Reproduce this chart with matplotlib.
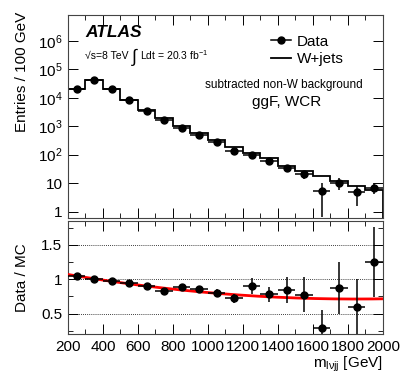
import numpy as np
import matplotlib
matplotlib.use('Agg')
import matplotlib.pyplot as plt
from matplotlib.lines import Line2D
from matplotlib.ticker import MultipleLocator, LogLocator, FixedLocator, FuncFormatter, NullFormatter

plt.rcParams['font.family'] = ['Liberation Sans', 'DejaVu Sans']
plt.rcParams['mathtext.fontset'] = 'custom'
plt.rcParams['mathtext.rm'] = 'Liberation Sans'
plt.rcParams['mathtext.it'] = 'Liberation Sans:italic'
plt.rcParams['mathtext.bf'] = 'Liberation Sans:bold'

# bin edges of m_lvjj (GeV)
edges = np.arange(200, 2001, 100)
centers = edges[:-1] + 50

# data points (background subtracted) and W+jets prediction
data = np.array([21000, 41000, 19500, 8000, 3500, 1600, 900, 475, 270,
                 130, 100, 61, 34, 21, 5.4, 10.5, 4.9, 7.0])
wjets = np.array([20000, 41000, 20000, 8500, 3850, 1930, 1020, 555, 338,
                  180, 111, 78, 40, 27, 18.3, 12.0, 8.2, 5.6])
# uncertainty on the ratio points
ratio_err = np.array([0.03, 0.02, 0.02, 0.02, 0.03, 0.03, 0.03, 0.04, 0.06,
                      0.07, 0.12, 0.11, 0.19, 0.25, 0.26, 0.38, 0.41, 0.51])

# quadratic fit to the ratio (red line)
fit_a, fit_b, fit_c = 1.07, -4.36e-4, 1.327e-7

ratio = data / wjets
data_err = data * ratio_err / ratio

fig = plt.figure(figsize=(4.07, 3.75), dpi=100)
ax1 = fig.add_axes([0.167, 0.4187, 0.774, 0.5413])
ax2 = fig.add_axes([0.167, 0.109, 0.774, 0.3017])

# top panel
ax1.stairs(wjets, edges, color='black', lw=1.3)
ax1.errorbar(centers, data, xerr=50, yerr=data_err, fmt='o', color='black',
             ms=5, elinewidth=1.1, capsize=0)
ax1.set_yscale('log')
ax1.set_xlim(200, 2000)
ax1.set_ylim(0.6, 8e6)
ax1.set_ylabel('Entries / 100 GeV', fontsize=11)
ax1.yaxis.set_label_coords(-0.125, 0.72)

def log_fmt(v, pos):
    if v == 1:
        return '1'
    if v == 10:
        return '10'
    return r'$10^{%d}$' % int(round(np.log10(v)))

ax1.yaxis.set_major_locator(FixedLocator([1, 10, 1e2, 1e3, 1e4, 1e5, 1e6]))
ax1.yaxis.set_major_formatter(FuncFormatter(log_fmt))
ax1.yaxis.set_minor_locator(LogLocator(base=10, subs=np.arange(2, 10)))
ax1.yaxis.set_minor_formatter(NullFormatter())
ax1.xaxis.set_major_locator(MultipleLocator(200))
ax1.xaxis.set_minor_locator(MultipleLocator(100))
ax1.tick_params(labelbottom=False)

ax1.text(0.055, 0.915, 'ATLAS', transform=ax1.transAxes, fontsize=12.5,
         fontweight='bold', fontstyle='italic', va='center')
ax1.text(0.054, 0.80, '\u221as=8 TeV', transform=ax1.transAxes,
         fontsize=7.5, va='center')
ax1.text(0.2, 0.795, r'$\int$', transform=ax1.transAxes, fontsize=13, va='center')
ax1.text(0.229, 0.80, r'Ldt = 20.3 fb$^{-1}$', transform=ax1.transAxes,
         fontsize=7.5, va='center')

handles = [Line2D([], [], color='black', marker='o', ms=5, lw=1.1),
           Line2D([], [], color='black', lw=1.3)]
ax1.legend(handles, ['Data', 'W+jets'], loc='upper left',
           bbox_to_anchor=(0.6, 0.97), frameon=False, fontsize=11,
           handlelength=1.3, handletextpad=0.4, labelspacing=0.2)

ax1.text(0.935, 0.655, 'subtracted non-W background', transform=ax1.transAxes,
         fontsize=8.5, ha='right', va='center')
ax1.text(0.585, 0.57, 'ggF, WCR', transform=ax1.transAxes,
         fontsize=11, ha='left', va='center')

# ratio panel
xfit = np.linspace(200, 2000, 200)
yfit = fit_a + fit_b * (xfit - 200) + fit_c * (xfit - 200) ** 2
ax2.plot(xfit, yfit, color='red', lw=2, zorder=3)
ax2.errorbar(centers, ratio, xerr=50, yerr=ratio_err, fmt='o', color='black',
             ms=5, elinewidth=1.1, capsize=0, zorder=4)
ax2.set_xlim(200, 2000)
ax2.set_ylim(0.2, 1.85)
for g in [0.5, 1.0, 1.5]:
    ax2.axhline(g, color='black', lw=0.6, ls=(0, (1, 1.5)), zorder=1)
ax2.yaxis.set_major_locator(FixedLocator([0.5, 1.0, 1.5]))
ax2.yaxis.set_major_formatter(FuncFormatter(lambda v, p: '%g' % v))
ax2.yaxis.set_minor_locator(MultipleLocator(0.25))
ax2.xaxis.set_major_locator(MultipleLocator(200))
ax2.xaxis.set_minor_locator(MultipleLocator(100))
ax2.set_ylabel('Data / MC', fontsize=11)
ax2.yaxis.set_label_coords(-0.125, 0.5)
ax2.set_xlabel(r'm$_{\mathrm{l\nu jj}}$ [GeV]', fontsize=11, loc='right', labelpad=1)

for ax in (ax1, ax2):
    ax.tick_params(which='both', direction='in', top=True, right=True,
                   labelsize=11, pad=4)
    ax.tick_params(which='major', length=7, width=0.7)
    ax.tick_params(which='minor', length=3.5, width=0.6)
    for s in ax.spines.values():
        s.set_linewidth(0.8)
        s.set_color('#444444')

fig.savefig('out.png', dpi=100)
